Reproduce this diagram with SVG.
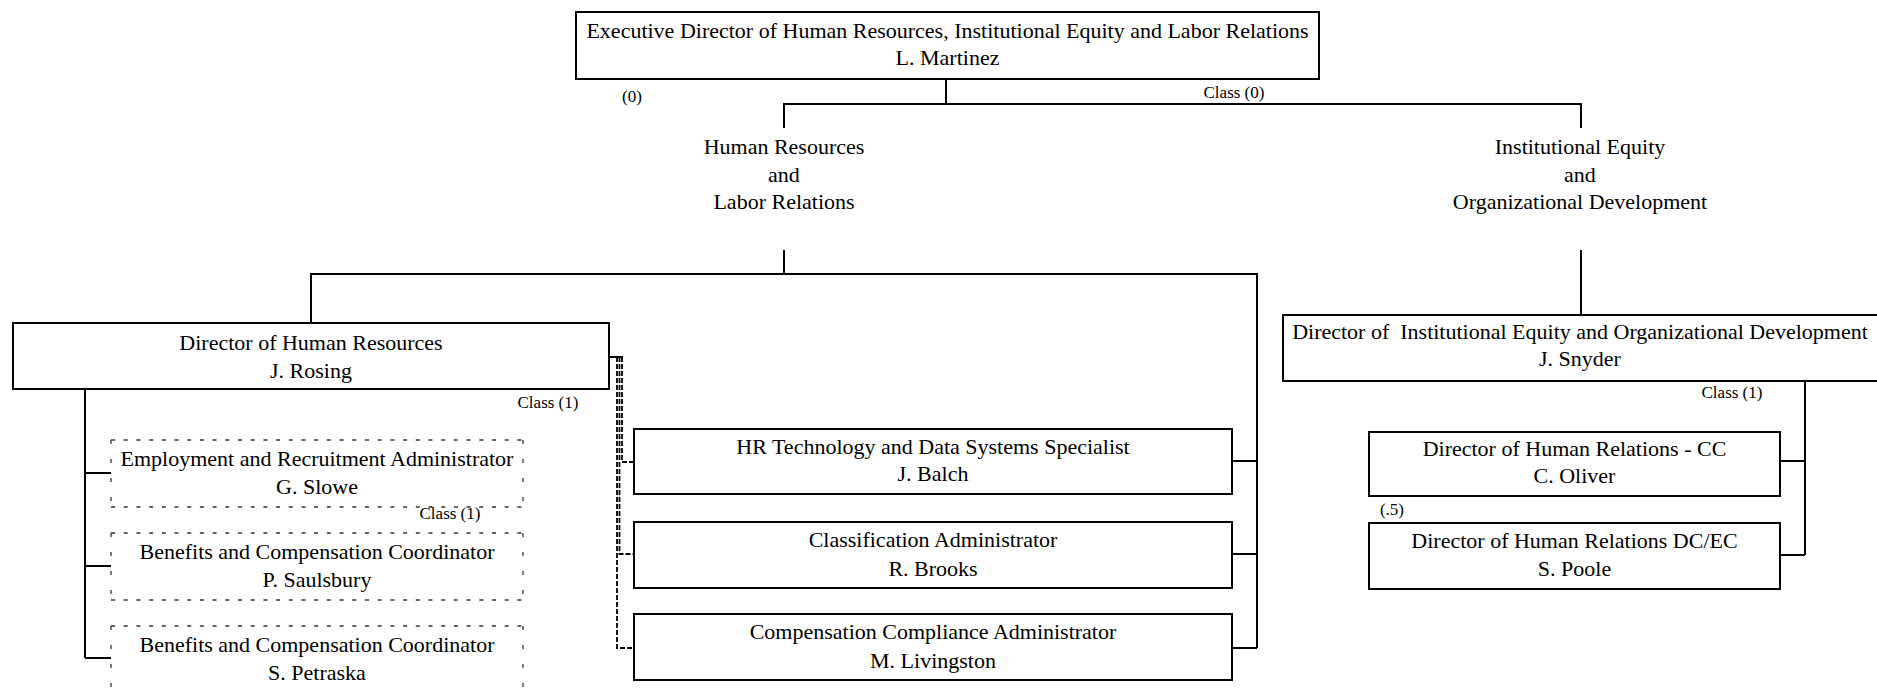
<svg xmlns="http://www.w3.org/2000/svg" width="1877" height="690" viewBox="0 0 1877 690">
<style>
.box{fill:#fff;stroke:#000;stroke-width:2}
.dfill{fill:#fff;stroke:none}
.dh{fill:none;stroke:#333;stroke-width:1.3;stroke-dasharray:4 8.7}
.dv{fill:none;stroke:#333;stroke-width:1.3;stroke-dasharray:4 15}
.t{font-family:"Liberation Serif","Times New Roman",serif;font-size:22px;text-anchor:middle;fill:#000}
.s{font-family:"Liberation Serif","Times New Roman",serif;font-size:17px;text-anchor:middle;fill:#000}
.c{fill:none;stroke:#000;stroke-width:2}
.d{fill:none;stroke:#000;stroke-width:1.8;stroke-dasharray:5 2}
</style>
<rect width="1877" height="690" fill="#fff"/>
<g id="connectors">
<path class="c" d="M946 79V104M784 128V104H1581V128M784 250V274M311 323V274H1257V648M1232 461H1257M1232 554H1257M1232 648H1257M1581 250V315M1805 381V555M1780 461H1805M1780 555H1805M85 390V658M85 473H111M85 566H111M85 658H111M609 357H623"/>
<path class="d" d="M622 357V462H634M619.5 357V554H634M617 357V648H634"/>
</g>
<g id="exec">
<rect class="box" x="576" y="12" width="743" height="67"/>
<text class="t" x="947.5" y="38">Executive Director of Human Resources, Institutional Equity and Labor Relations</text>
<text class="t" x="947.5" y="65">L. Martinez</text>
</g>
<g id="labels">
<text class="s" x="632" y="102">(0)</text>
<text class="s" x="1234" y="98">Class (0)</text>
<text class="s" x="548" y="408">Class (1)</text>
<text class="s" x="450" y="519">Class (1)</text>
<text class="s" x="1732" y="398">Class (1)</text>
<text class="s" x="1392" y="515">(.5)</text>
</g>
<g id="hr_lr">
<text class="t" x="784" y="154">Human Resources</text>
<text class="t" x="784" y="182">and</text>
<text class="t" x="784" y="209">Labor Relations</text>
</g>
<g id="ie_od">
<text class="t" x="1580" y="154">Institutional Equity</text>
<text class="t" x="1580" y="182">and</text>
<text class="t" x="1580" y="209">Organizational Development</text>
</g>
<g id="dir_hr">
<rect class="box" x="13" y="323" width="596" height="66"/>
<text class="t" x="311" y="350">Director of Human Resources</text>
<text class="t" x="311" y="378">J. Rosing</text>
</g>
<g id="emp">
<rect class="dfill" x="111" y="440" width="412" height="67"/>
<path class="dh" d="M111 440H523M111 507H523"/>
<path class="dv" d="M111 440V507M523 440V507"/>
<text class="t" x="317" y="466">Employment and Recruitment Administrator</text>
<text class="t" x="317" y="494">G. Slowe</text>
</g>
<g id="ben1">
<rect class="dfill" x="111" y="533" width="412" height="67"/>
<path class="dh" d="M111 533H523M111 600H523"/>
<path class="dv" d="M111 533V600M523 533V600"/>
<text class="t" x="317" y="559">Benefits and Compensation Coordinator</text>
<text class="t" x="317" y="587">P. Saulsbury</text>
</g>
<g id="ben2">
<rect class="dfill" x="111" y="626" width="412" height="70"/>
<path class="dh" d="M111 626H523"/>
<path class="dv" d="M111 626V696M523 626V696"/>
<text class="t" x="317" y="652">Benefits and Compensation Coordinator</text>
<text class="t" x="317" y="680">S. Petraska</text>
</g>
<g id="hrtech">
<rect class="box" x="634" y="429" width="598" height="65"/>
<text class="t" x="933" y="454">HR Technology and Data Systems Specialist</text>
<text class="t" x="933" y="481">J. Balch</text>
</g>
<g id="classif">
<rect class="box" x="634" y="522" width="598" height="66"/>
<text class="t" x="933" y="547">Classification Administrator</text>
<text class="t" x="933" y="576">R. Brooks</text>
</g>
<g id="comp">
<rect class="box" x="634" y="614" width="598" height="66"/>
<text class="t" x="933" y="639">Compensation Compliance Administrator</text>
<text class="t" x="933" y="668">M. Livingston</text>
</g>
<g id="snyder">
<rect class="box" x="1283" y="315" width="600" height="66"/>
<text class="t" x="1580" y="339" xml:space="preserve" style="white-space:pre">Director of  Institutional Equity and Organizational Development</text>
<text class="t" x="1580" y="366">J. Snyder</text>
</g>
<g id="oliver">
<rect class="box" x="1369" y="432" width="411" height="64"/>
<text class="t" x="1574.5" y="456">Director of Human Relations - CC</text>
<text class="t" x="1574.5" y="483">C. Oliver</text>
</g>
<g id="poole">
<rect class="box" x="1369" y="523" width="411" height="66"/>
<text class="t" x="1574.5" y="548">Director of Human Relations DC/EC</text>
<text class="t" x="1574.5" y="576">S. Poole</text>
</g>
</svg>
